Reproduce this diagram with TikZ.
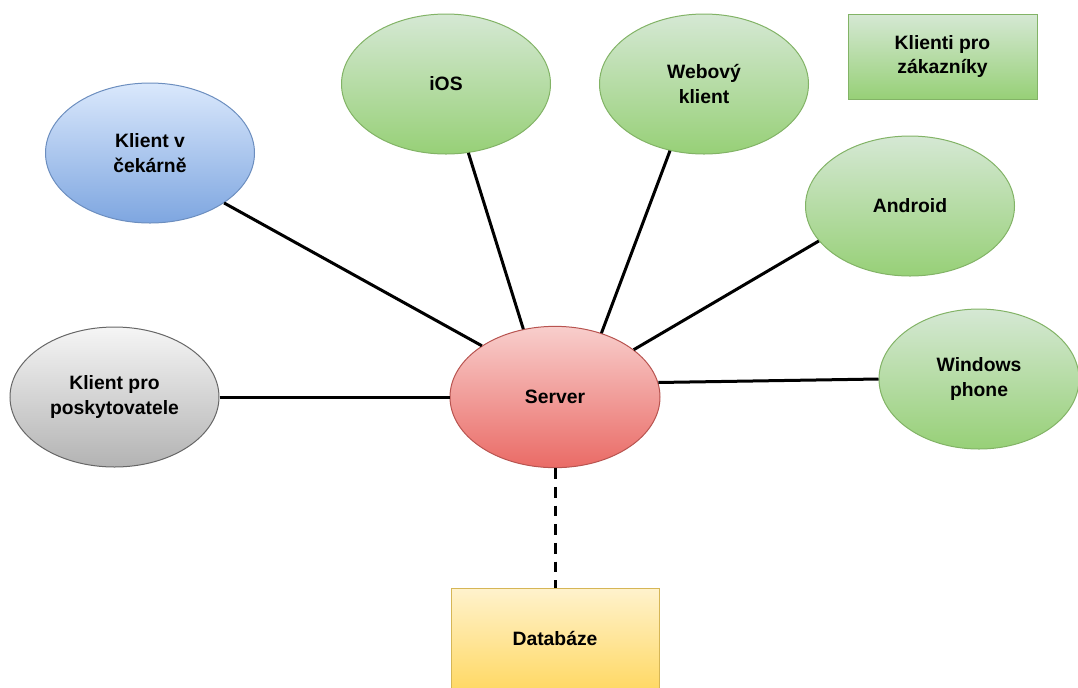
\documentclass[tikz,border=0pt]{standalone}
\usepackage{fontspec}
\setmainfont{Liberation Sans}
\usetikzlibrary{positioning,shapes.geometric}
\definecolor{greentop}{HTML}{D5E8D4}
\definecolor{greenbottom}{HTML}{97D077}
\definecolor{greenline}{HTML}{82B366}
\definecolor{bluetop}{HTML}{DAE8FC}
\definecolor{bluebottom}{HTML}{7EA6E0}
\definecolor{blueline}{HTML}{6C8EBF}
\definecolor{graytop}{HTML}{F5F5F5}
\definecolor{graybottom}{HTML}{B3B3B3}
\definecolor{grayline}{HTML}{666666}
\definecolor{redtop}{HTML}{F8CECC}
\definecolor{redbottom}{HTML}{EA6B66}
\definecolor{redline}{HTML}{B85450}
\definecolor{yellowtop}{HTML}{FFF2CC}
\definecolor{yellowbottom}{HTML}{FFD966}
\definecolor{yellowline}{HTML}{D6B656}

\begin{document}
\begin{tikzpicture}[
            x=0.75pt, y=-0.75pt,
            label/.style={
                align=center, inner sep=0pt, line width=0.75pt,
                font=\bfseries\fontsize{14.5}{18.5}\selectfont
            },
            appnode/.style={
                label, ellipse,
                minimum width=156.75pt, minimum height=105pt
            },
            greenapp/.style={appnode, draw=greenline, top color=greentop, bottom color=greenbottom},
            boxnode/.style={label, rectangle},
            link/.style={line width=2.25pt},
        ]
            \useasboundingbox (0,0) rectangle (1078,687);

            \node [appnode, draw=redline, top color=redtop, bottom color=redbottom,
                   minimum width=157.5pt, minimum height=106pt] (server) at (555,397) {Server};

            \node [greenapp] (ios)     at (446,84)  {iOS};
            \node [greenapp] (web)     at (704,84)  {Webový\\klient};
            \node [greenapp] (android) at (910,206) {Android};
            \node [greenapp, minimum width=150pt] (winphone) at (979,379) {Windows\\phone};
            \node [appnode, draw=blueline, top color=bluetop, bottom color=bluebottom] (waiting) at (150,153) {Klient v\\čekárně};
            \node [appnode, draw=grayline, top color=graytop, bottom color=graybottom] (provider) [ left= 172.5pt of server ] {Klient pro\\poskytovatele};

            \node [boxnode, draw=greenline, top color=greentop, bottom color=greenbottom,
                   minimum width=141.75pt, minimum height=63.75pt] (legend) at (942.5,56.5) {Klienti pro\\zákazníky};
            \node [boxnode, draw=yellowline, top color=yellowtop, bottom color=yellowbottom,
                   minimum width=156pt, minimum height=75pt] (db) [ below= 90pt of server ] {Databáze};

            \draw[link] (waiting.326) -- (server.145);
            \draw[link] (ios.288) -- (server.115);
            \draw[link] (web.243) -- (server.54);
            \draw[link] (android.201) -- (server.31);
            \draw[link] (winphone.180) -- (server.8);
            \draw[link] (provider) -- (server);
            \draw[link, dash pattern=on 8pt off 6pt] (server) -- (db);

        \end{tikzpicture}
\end{document}
